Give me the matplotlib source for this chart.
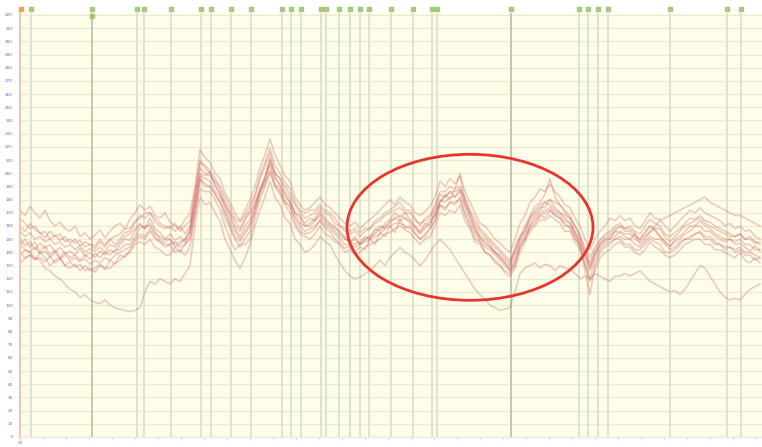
import matplotlib
matplotlib.use("Agg")
import matplotlib.pyplot as plt
from matplotlib.patches import Ellipse
import matplotlib.transforms as mtransforms

# ---- data (149 samples per series) ----
x_index = [i * 0.5 for i in range(149)]

sA = [172,168,175,170,166,172,164,160,163,158,156,160,152,155,150,153,157,151,156,160,
      162,158,165,170,176,172,175,168,166,170,163,160,158,165,170,190,218,212,208,200,
      196,185,178,170,164,172,180,190,204,214,226,214,206,198,194,182,176,172,174,178,
      182,176,174,170,166,162,160,163,158,162,165,168,172,176,180,176,182,178,176,170,
      168,171,175,182,194,190,196,192,198,186,178,170,162,160,155,150,147,143,140,150,
      162,168,178,182,188,186,192,186,182,176,174,166,160,150,142,150,156,160,166,164,
      168,164,166,160,158,164,170,166,165,160,156,160,164,168,172,170,174,170,168,166,
      164,160,162,158,160,156,157,152,150]
sB = [150,145,148,142,147,143,146,140,144,139,141,138,143,137,140,136,141,138,142,140,
      146,150,149,156,161,158,166,158,155,150,154,149,152,148,155,176,200,198,201,190,
      185,175,166,158,152,160,165,178,188,198,210,200,196,186,181,170,168,162,166,164,
      170,164,161,158,156,150,148,152,146,150,152,158,156,162,165,170,166,170,165,160,
      156,162,160,172,178,184,180,188,200,178,166,158,150,148,144,140,136,132,128,138,
      148,155,163,168,172,178,176,172,170,166,162,155,148,138,128,138,146,150,150,156,
      155,152,150,154,146,150,155,158,152,148,145,148,150,154,156,160,160,156,156,152,
      150,148,150,146,147,144,141,145,141]
sC = [140,136,138,135,136,133,137,132,135,130,133,129,131,126,128,125,130,127,134,131,
      138,136,142,148,152,150,156,150,148,144,146,140,142,138,144,168,195,190,190,184,
      178,166,158,150,144,150,156,170,186,194,206,192,188,178,176,163,156,154,155,158,
      165,158,156,150,147,143,145,140,144,142,150,146,155,152,160,155,165,158,160,155,
      150,152,158,164,176,172,178,176,182,168,160,150,148,140,138,132,130,126,124,130,
      144,150,158,162,168,166,172,168,166,160,160,150,146,126,108,130,140,144,146,150,
      150,146,146,142,142,146,150,148,146,140,140,142,146,150,150,154,155,150,150,146,
      146,142,144,140,142,138,138,134,136]
sD = [160,156,162,157,155,151,156,152,154,148,150,147,149,144,146,145,150,146,150,152,
      154,158,158,164,166,170,170,166,162,160,158,162,156,160,164,186,208,206,202,196,
      190,182,174,166,163,168,176,184,198,208,219,206,200,193,188,178,172,170,172,172,
      176,172,170,166,160,158,156,158,155,158,158,164,166,170,172,175,178,172,172,166,
      160,166,168,176,186,186,190,188,190,182,172,166,158,154,150,146,142,138,134,142,
      152,160,168,175,178,184,196,182,176,172,168,160,154,140,132,142,148,154,156,160,
      162,158,160,156,154,160,165,162,160,154,152,155,158,162,166,165,168,164,163,160,
      158,156,154,152,154,150,150,147,148]
sE = [132,135,138,134,140,136,130,134,136,130,128,131,126,130,126,128,131,128,128,132,
      134,138,140,146,148,146,150,144,142,138,138,144,140,146,150,170,188,186,186,180,
      172,160,150,142,146,146,150,166,180,190,200,190,184,176,170,160,154,152,150,154,
      160,154,152,148,146,140,142,138,140,144,146,148,150,154,155,158,160,157,155,150,
      146,150,152,160,170,168,172,170,176,164,158,148,146,140,138,134,130,124,122,128,
      140,148,156,160,165,164,168,165,162,156,156,148,142,130,118,126,136,140,142,146,
      148,144,144,140,138,142,148,144,142,138,136,138,142,146,148,150,150,146,146,142,
      142,140,138,136,140,134,132,136,132]
sF = [146,142,140,136,134,128,126,122,120,116,112,110,106,108,104,102,101,104,100,98,
      97,96,95,96,98,110,118,116,120,118,116,120,118,124,130,160,182,176,178,170,
      164,150,142,134,128,136,146,160,172,182,194,182,176,166,162,150,146,140,142,146,
      152,148,146,138,132,126,122,120,121,124,126,130,134,130,136,140,144,140,138,134,
      130,134,140,146,150,146,142,136,130,124,118,112,108,104,100,98,96,97,98,110,
      124,128,130,132,128,131,130,126,130,128,127,124,120,122,120,124,122,120,118,122,
      122,124,122,124,126,122,118,116,114,112,110,111,108,112,118,124,130,128,122,116,
      110,106,104,105,104,108,112,114,116]
sG = [166,162,158,160,154,156,150,153,149,152,147,150,145,148,146,143,148,144,150,146,
      150,155,156,162,168,166,170,163,160,158,160,156,160,154,160,182,204,200,198,194,
      188,178,170,164,158,166,172,182,196,205,216,200,196,190,184,176,170,166,168,170,
      174,170,168,162,160,156,154,156,152,156,158,162,164,168,170,172,174,170,170,164,
      162,164,166,174,184,182,186,186,188,180,170,162,156,152,148,144,140,136,132,140,
      150,158,166,172,176,178,180,178,176,170,166,160,152,144,136,144,150,152,154,158,
      160,158,158,154,150,156,160,158,158,152,148,152,156,160,162,164,166,162,160,158,
      156,154,152,152,154,150,152,148,146]
sH = [146,150,144,148,140,145,138,142,136,140,136,138,134,138,135,139,136,140,138,142,
      142,146,146,152,158,160,160,154,152,150,150,146,148,150,158,178,198,196,194,186,
      182,172,162,156,150,156,162,174,188,196,208,196,192,182,178,168,162,160,160,164,
      168,162,160,156,152,150,148,150,146,150,152,154,158,160,162,166,164,166,162,158,
      154,158,162,168,180,178,182,182,186,174,166,156,152,146,144,140,136,132,126,134,
      146,152,160,166,170,172,174,170,168,164,162,154,146,136,126,138,144,148,150,152,
      156,154,154,150,148,152,156,160,164,166,168,170,172,174,176,178,180,182,178,176,
      174,172,170,168,168,166,164,162,160]
sI = [156,152,155,150,152,148,150,146,148,144,146,142,145,140,143,141,144,140,146,144,
      148,152,154,158,162,158,162,156,150,148,150,144,146,150,156,184,210,204,200,192,
      184,176,170,160,156,164,170,176,186,196,212,198,190,184,178,170,166,160,162,166,
      172,166,162,160,154,152,148,146,148,152,150,156,160,158,164,166,168,166,164,160,
      155,160,164,168,178,182,186,182,188,176,170,160,152,150,146,140,138,134,130,144,
      152,156,166,170,174,174,180,174,170,168,166,156,150,140,130,140,146,150,152,156,
      160,156,156,152,150,154,160,156,152,148,144,150,152,156,160,160,164,160,158,154,
      152,150,150,148,150,146,146,142,142]
sJ = [138,142,140,144,139,141,136,140,135,138,134,136,133,135,131,134,132,136,134,138,
      140,142,144,150,154,152,158,152,148,146,146,148,144,146,152,172,196,192,190,184,
      178,170,160,152,148,154,160,172,184,192,202,190,186,178,174,166,160,156,158,160,
      164,160,158,154,150,146,146,144,146,148,150,152,154,158,160,162,162,160,158,154,
      150,154,158,164,176,174,178,178,180,170,162,154,148,144,142,138,134,130,126,132,
      144,150,160,164,168,170,172,168,166,162,158,152,144,132,120,134,142,146,148,150,
      152,150,150,146,144,148,152,150,150,146,142,144,148,150,152,154,156,152,152,148,
      146,144,144,142,144,140,140,138,136]
series = [sA, sB, sC, sD, sE, sF, sG, sH, sI, sJ]

event_x = [1.1, 7.2, 11.7, 12.4, 15.1, 18.1, 19.1, 21.1, 23.1, 26.2, 27.1, 28.1, 30.1, 30.6,
           31.9, 33.0, 34.0, 34.9, 37.1, 39.3, 41.2, 41.7, 49.1, 55.9, 56.8, 57.8, 58.8,
           65.0, 70.7, 72.1]
dark_events = [7.2, 49.1]
y_ticks = list(range(0, 330, 10))
y_labels = [str(v) for v in y_ticks]

# ---- figure ----
fig = plt.figure(figsize=(7.62, 4.47), dpi=100)
fig.patch.set_facecolor("white")
ax = fig.add_axes([20/762, 10/447, 742/762, 424/447])
ax.set_facecolor("#fdfde9")
ax.set_xlim(0, 74.2)
ax.set_ylim(0, 321.5)

for yt in y_ticks:
    ax.axhline(yt, color="#ecebd2", lw=1.0, zorder=0)

for ex in event_x:
    c = "#c4c8ae" if ex in dark_events else "#dfe2cc"
    ax.axvline(ex, color=c, lw=1.4, zorder=1)

for s in series:
    ax.plot(x_index, s, color="#c85050", alpha=0.3, lw=1.1, zorder=2)

ell = Ellipse((45.0, 159.0), 24.6, 110.7, fill=False, edgecolor="#e8342f", lw=2.0, zorder=5)
ax.add_patch(ell)

# markers above the plot
trans = mtransforms.blended_transform_factory(ax.transData, ax.transAxes)
ax.plot([0.05], [1.0094], marker="s", ms=3.5, color="#f0a050", transform=trans, clip_on=False)
ax.plot(event_x, [1.0094]*len(event_x), ls="none", marker="s", ms=3.0, color="#9cc46a",
        alpha=0.85, transform=trans, clip_on=False)
ax.plot([7.2], [0.993], marker="s", ms=3.0, color="#9cc46a", alpha=0.85, transform=trans, clip_on=False)

ax.set_yticks(y_ticks)
ax.set_yticklabels(y_labels, fontsize=3, color="#6464c8")
ax.tick_params(axis="y", length=0, pad=5)
xt = [i*2.3 for i in range(33)]
ax.set_xticks(xt)
ax.set_xticklabels(["00"] + [""]*(len(xt)-1), fontsize=3, color="#6464c8")
ax.tick_params(axis="x", length=2, color="#dddddd", pad=1)

for side in ["top", "right"]:
    ax.spines[side].set_visible(False)
ax.spines["left"].set_color("#f0c8a8")
ax.spines["left"].set_linewidth(1.5)
ax.spines["bottom"].set_color("#e8e8dc")

fig.savefig("out.png", dpi=100)
